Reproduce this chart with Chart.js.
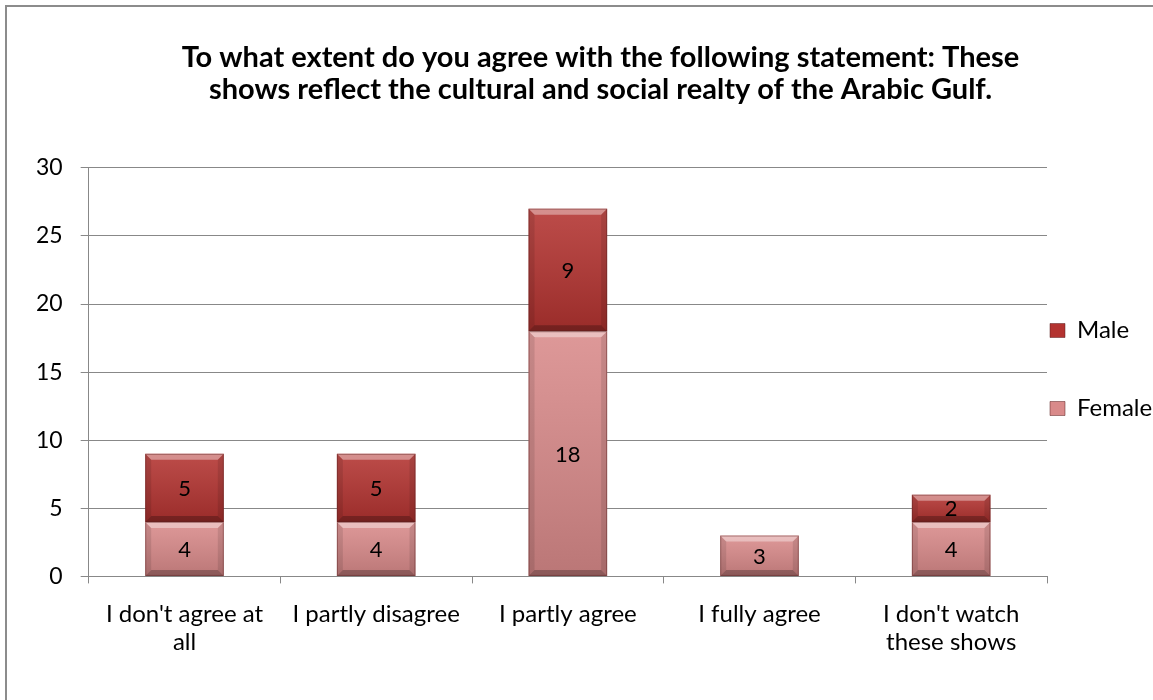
<!DOCTYPE html>
<html>
<head>
<meta charset="utf-8">
<script src="https://cdn.jsdelivr.net/npm/chart.js@4.4.1/dist/chart.umd.min.js"></script>
<style>
  html, body { margin: 0; padding: 0; background: #fff; }
  #wrap { position: relative; width: 1153px; height: 700px; overflow: hidden; }
  #frame { position: absolute; left: 5px; top: 5px; width: 1200px; height: 800px;
           border-left: 2px solid #8c8c8c; border-top: 2px solid #8c8c8c; box-sizing: border-box; }
  canvas { position: absolute; left: 0; top: 0; }
</style>
</head>
<body>
<div id="wrap">
  <div id="frame"></div>
  <canvas id="c" width="1153" height="700"></canvas>
</div>
<script>
const titleLines = [
  "To what extent do you agree with the following statement: These",
  "shows reflect the cultural and social realty of the Arabic Gulf."
];
const categories = [
  ["I don't agree at", "all"],
  "I partly disagree",
  "I partly agree",
  "I fully agree",
  ["I don't watch", "these shows"]
];
const femaleValues = [4, 4, 18, 3, 4];
const maleValues = [5, 5, 9, 0, 2];
const yMin = 0, yMax = 30, yStep = 5;

const FONT = "Lato, 'Open Sans', sans-serif";

const bevelPlugin = {
  id: 'bevel',
  afterDatasetsDraw(chart) {
    const ctx = chart.ctx;
    chart.data.datasets.forEach((ds, di) => {
      const meta = chart.getDatasetMeta(di);
      meta.data.forEach((bar, i) => {
        const v = ds.data[i];
        if (!v) return;
        const p = bar.getProps(['x', 'y', 'base', 'width'], true);
        const l = p.x - p.width / 2, r = p.x + p.width / 2;
        const t = Math.min(p.y, p.base), b = Math.max(p.y, p.base);
        const h = b - t;
        const s = Math.min(6, h / 3);
        ctx.save();
        const g = ctx.createLinearGradient(0, t, 0, b);
        g.addColorStop(0, 'rgba(255,255,255,0.12)');
        g.addColorStop(1, 'rgba(0,0,0,0.14)');
        ctx.fillStyle = g;
        ctx.fillRect(l, t, r - l, h);
        ctx.fillStyle = 'rgba(255,255,255,0.38)';
        ctx.beginPath(); ctx.moveTo(l, t); ctx.lineTo(r, t); ctx.lineTo(r - s, t + s); ctx.lineTo(l + s, t + s); ctx.closePath(); ctx.fill();
        ctx.fillStyle = 'rgba(0,0,0,0.25)';
        ctx.beginPath(); ctx.moveTo(l, b); ctx.lineTo(r, b); ctx.lineTo(r - s, b - s); ctx.lineTo(l + s, b - s); ctx.closePath(); ctx.fill();
        ctx.fillStyle = 'rgba(0,0,0,0.10)';
        ctx.beginPath(); ctx.moveTo(l, t); ctx.lineTo(l + s, t + s); ctx.lineTo(l + s, b - s); ctx.lineTo(l, b); ctx.closePath(); ctx.fill();
        ctx.beginPath(); ctx.moveTo(r, t); ctx.lineTo(r - s, t + s); ctx.lineTo(r - s, b - s); ctx.lineTo(r, b); ctx.closePath(); ctx.fill();
        ctx.strokeStyle = 'rgba(90,30,30,0.45)';
        ctx.lineWidth = 1;
        ctx.strokeRect(l + 0.5, t + 0.5, r - l - 1, h - 1);
        ctx.restore();
      });
    });
  }
};

const labelPlugin = {
  id: 'valueLabels',
  afterDatasetsDraw(chart) {
    const ctx = chart.ctx;
    ctx.save();
    ctx.font = "22px " + FONT;
    ctx.fillStyle = '#000';
    ctx.textAlign = 'center';
    ctx.textBaseline = 'middle';
    chart.data.datasets.forEach((ds, di) => {
      const meta = chart.getDatasetMeta(di);
      meta.data.forEach((bar, i) => {
        const v = ds.data[i];
        if (!v) return;
        const p = bar.getProps(['x', 'y', 'base'], true);
        ctx.fillText(String(v), p.x, (p.y + p.base) / 2 + 1);
      });
    });
    ctx.restore();
  }
};

// Put the legend right next to the plot area (like the original) while keeping large vertical spacing
const legendShift = {
  id: 'legendShift',
  afterLayout(chart) {
    const lg = chart.legend;
    if (!lg) return;
    const pad = lg.options.labels.padding;
    lg.left = chart.chartArea.right + 3 - pad;
    lg.right = 1200;
    lg.width = lg.right - lg.left;
    lg.top += 20;
    lg.bottom += 20;
  }
};

new Chart(document.getElementById('c'), {
  type: 'bar',
  data: {
    labels: categories,
    datasets: [
      { label: 'Female', data: femaleValues, backgroundColor: '#d98a8a', borderWidth: 0,
        barPercentage: 0.41, categoryPercentage: 1.0 },
      { label: 'Male', data: maleValues, backgroundColor: '#b33330', borderWidth: 0,
        barPercentage: 0.41, categoryPercentage: 1.0 }
    ]
  },
  options: {
    responsive: false,
    animation: false,
    layout: { padding: { left: 18, right: -30, top: 26, bottom: 27 } },
    plugins: {
      title: {
        display: true,
        text: titleLines,
        color: '#000',
        font: { family: FONT, size: 29, weight: 'bold', lineHeight: 1.1 },
        padding: { top: 16, bottom: 62 }
      },
      legend: {
        position: 'right',
        reverse: true,
        maxWidth: 136,
        labels: {
          color: '#000',
          font: { family: FONT, size: 24 },
          boxWidth: 15, boxHeight: 14,
          padding: 54,
          generateLabels(chart) {
            return chart.data.datasets.map((ds, i) => ({
              text: ds.label, fillStyle: ds.backgroundColor, strokeStyle: 'rgba(90,30,30,0.5)',
              lineWidth: 1, hidden: false, datasetIndex: i, fontColor: '#000'
            }));
          }
        }
      },
      tooltip: { enabled: false }
    },
    scales: {
      x: {
        stacked: true,
        grid: { display: true, offset: true, drawOnChartArea: false, drawTicks: true, tickLength: 7, color: '#888' },
        border: { display: true, color: '#888', width: 1 },
        ticks: { color: '#000', font: { family: FONT, size: 24, lineHeight: 1.2 }, maxRotation: 0, autoSkip: false, padding: 16 }
      },
      y: {
        stacked: true,
        min: yMin, max: yMax,
        grid: { color: '#888', lineWidth: 1, tickLength: 8 },
        border: { display: true, color: '#888', width: 1 },
        ticks: { stepSize: yStep, color: '#000', font: { family: FONT, size: 23 }, padding: 18 }
      }
    }
  },
  plugins: [bevelPlugin, labelPlugin, legendShift]
});
</script>
</body>
</html>
